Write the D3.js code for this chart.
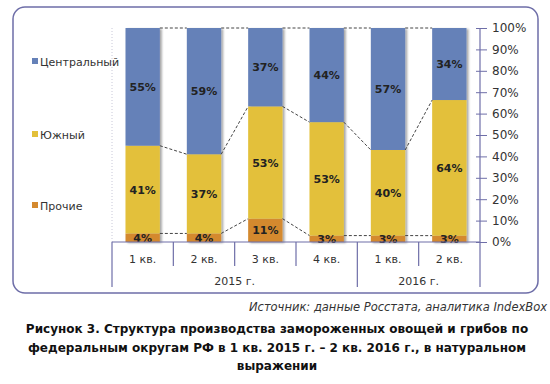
<!DOCTYPE html>
<html>
<head>
<meta charset="utf-8">
<script src="https://cdn.jsdelivr.net/npm/d3@7"></script>
<style>
    body { margin: 0; background: #fff; }
    text { font-family: "DejaVu Sans", Verdana, sans-serif; }
</style>
</head>
<body>
<svg id="chart" width="550" height="384"></svg>
<script>
// quarters and years
const quarters = ["1 кв.", "2 кв.", "3 кв.", "4 кв.", "1 кв.", "2 кв."];
const years = ["2015 г.", "2016 г."];
const quartersPerYear = [4, 2];

// series values, %
const seriesNames = ["Прочие", "Южный", "Центральный"];
const prochie = [4, 4, 11, 3, 3, 3];
const yuzhny = [41, 37, 53, 53, 40, 64];
const centralny = [55, 59, 37, 44, 57, 34];
const colors = ["#d4892f", "#e3c03a", "#6581b8"];

const yTicks = [0, 10, 20, 30, 40, 50, 60, 70, 80, 90, 100];

const svg = d3.select("#chart");
const axisColor = "#6e6ea8";

const plotLeft = 112, plotRight = 480, plotTop = 28, plotBottom = 242;

// table for d3.stack
let rows = quarters.map(function (q, i) {
    return { i: i, "Прочие": prochie[i], "Южный": yuzhny[i], "Центральный": centralny[i] };
});
let stacked = d3.stack().keys(seriesNames).offset(d3.stackOffsetExpand)(rows);

let x = d3.scaleBand().domain(d3.range(quarters.length)).range([plotLeft, plotRight]).paddingInner(0.44).paddingOuter(0.22);
let y = d3.scaleLinear().domain([0, 1]).range([plotBottom, plotTop]);

// frame
svg.append("rect")
    .attr("x", 13).attr("y", 7).attr("width", 525).attr("height", 286)
    .attr("rx", 12)
    .attr("fill", "#fff")
    .attr("stroke", axisColor)
    .attr("stroke-width", 1.5);

let defs = svg.append("defs");
let f = defs.append("filter").attr("id", "shadow").attr("x", "-20%").attr("y", "-20%").attr("width", "150%").attr("height", "150%");
f.append("feDropShadow").attr("dx", 2).attr("dy", 1).attr("stdDeviation", 1.2).attr("flood-color", "#000").attr("flood-opacity", 0.35);

// dotted plot border on the left
svg.append("line")
    .attr("x1", plotLeft).attr("x2", plotLeft).attr("y1", plotTop).attr("y2", plotBottom)
    .attr("stroke", "#c8c8d8").attr("stroke-dasharray", "1,2");

// bars
let bars = svg.append("g").attr("filter", "url(#shadow)");
stacked.forEach(function (s, k) {
    bars.selectAll(null).data(s).enter().append("rect")
        .attr("x", function (d) { return x(d.data.i); })
        .attr("width", x.bandwidth())
        .attr("y", function (d) { return y(d[1]); })
        .attr("height", function (d) { return y(d[0]) - y(d[1]); })
        .attr("fill", colors[k]);
});

// series lines (dashed connectors)
let lines = svg.append("g");
stacked.forEach(function (s) {
    for (var i = 0; i < s.length - 1; i++) {
        lines.append("line")
            .attr("x1", x(i) + x.bandwidth()).attr("y1", y(s[i][1]))
            .attr("x2", x(i + 1)).attr("y2", y(s[i + 1][1]))
            .attr("stroke", "#444")
            .attr("stroke-width", 1)
            .attr("stroke-dasharray", "3,2");
    }
});

// value labels
let labels = svg.append("g");
stacked.forEach(function (s, k) {
    labels.selectAll(null).data(s).enter().append("text")
        .attr("x", function (d) { return x(d.data.i) + x.bandwidth() / 2; })
        .attr("y", function (d) { return (y(d[0]) + y(d[1])) / 2 + 4; })
        .attr("text-anchor", "middle")
        .style("font-size", "11px")
        .style("font-weight", "bold")
        .attr("fill", "#222")
        .text(function (d) { return d.data[seriesNames[k]] + "%"; });
});

// right axis
let yAxis = d3.axisRight(y)
    .tickValues(yTicks.map(function (t) { return t / 100; }))
    .tickFormat(function (d) { return Math.round(d * 100) + "%"; })
    .tickSize(6)
    .tickPadding(6);
let ya = svg.append("g").attr("transform", "translate(" + plotRight + ",0)").call(yAxis);
ya.select(".domain").remove();
ya.selectAll(".tick line").attr("x1", -4).attr("x2", 7).attr("stroke", axisColor);
ya.selectAll(".tick text")
    .style("font-size", "12px")
    .style("font-family", "'DejaVu Sans', Verdana, sans-serif")
    .attr("fill", "#333");

svg.append("line")
    .attr("x1", plotRight).attr("x2", plotRight).attr("y1", plotTop).attr("y2", 287)
    .attr("stroke", axisColor).attr("stroke-width", 1.2);

// x axis line and category separators
svg.append("line")
    .attr("x1", plotLeft).attr("x2", plotRight).attr("y1", plotBottom).attr("y2", plotBottom)
    .attr("stroke", axisColor).attr("stroke-width", 1.2);

let step = x.step();
let start = plotLeft;
let idx = 0;
quartersPerYear.forEach(function (n, yi) {
    for (var j = 0; j < n; j++) {
        let bx = start + j * step;
        svg.append("line")
            .attr("x1", bx).attr("x2", bx)
            .attr("y1", plotBottom).attr("y2", j === 0 ? 287 : 266)
            .attr("stroke", axisColor).attr("stroke-width", 1.2);
        svg.append("text")
            .attr("x", x(idx) + x.bandwidth() / 2)
            .attr("y", 263)
            .attr("text-anchor", "middle")
            .style("font-size", "11px")
            .attr("fill", "#333")
            .text(quarters[idx]);
        idx++;
    }
    svg.append("text")
        .attr("x", start + n * step / 2)
        .attr("y", 285)
        .attr("text-anchor", "middle")
        .style("font-size", "11px")
        .attr("fill", "#333")
        .text(years[yi]);
    start += n * step;
});

// legend
let legendY = [206, 135, 62];
seriesNames.forEach(function (name, k) {
    svg.append("rect")
        .attr("x", 32).attr("y", legendY[k] - 4).attr("width", 6).attr("height", 6)
        .attr("fill", colors[k]);
    svg.append("text")
        .attr("x", 40).attr("y", legendY[k] + 4)
        .style("font-size", "11px")
        .attr("fill", "#333")
        .text(name);
});

// source and caption
svg.append("text")
    .attr("x", 547).attr("y", 311)
    .attr("text-anchor", "end")
    .style("font-size", "11.5px")
    .style("font-style", "italic")
    .attr("fill", "#333")
    .text("Источник: данные Росстата, аналитика IndexBox");

let caption = [
    "Рисунок 3. Структура производства замороженных овощей и грибов по",
    "федеральным округам РФ в 1 кв. 2015 г. – 2 кв. 2016 г., в натуральном",
    "выражении"
];
caption.forEach(function (c, i) {
    svg.append("text")
        .attr("x", 277).attr("y", 333 + i * 18.5)
        .attr("text-anchor", "middle")
        .style("font-size", "12px")
        .style("font-weight", "bold")
        .attr("fill", "#111")
        .text(c);
});
</script>
</body>
</html>
